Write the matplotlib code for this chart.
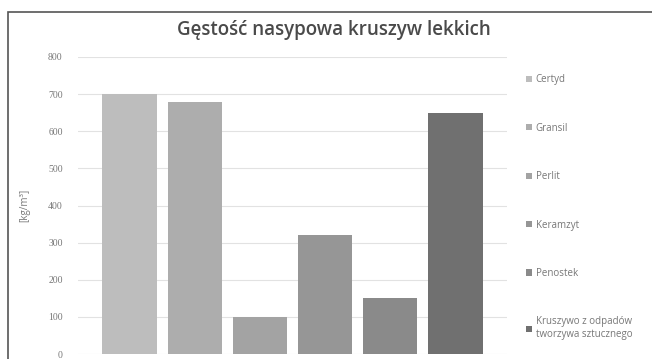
import matplotlib.pyplot as plt
from matplotlib.patches import Rectangle

# dane
materials = ["Certyd", "Gransil", "Perlit", "Keramzyt", "Penostek",
             "Kruszywo z odpadów\ntworzywa sztucznego"]
density = [700, 680, 100, 320, 150, 650]
bar_colors = ["#bdbdbd", "#adadad", "#a3a3a3", "#969696", "#8a8a8a", "#707070"]
y_ticks = [0, 100, 200, 300, 400, 500, 600, 700, 800]

plt.rcParams["font.family"] = ["Open Sans", "DejaVu Sans"]

fig = plt.figure(figsize=(6.52, 3.59), dpi=100)
W, H = 652, 359

# ramka wokół wykresu (wychodzi poza kadr z prawej i od dołu)
fig.patches.append(Rectangle((8 / W, -0.1), 1.2, 1.1 - 12 / H,
                             transform=fig.transFigure, fill=False,
                             edgecolor="#555555", linewidth=1.2))

ax = fig.add_axes([78 / W, 5 / H, 429 / W, 297 / H])
xs = range(len(materials))
bars = ax.bar(xs, density, width=0.83, color=bar_colors, label=materials,
              zorder=3)

ax.set_xlim(-0.79, len(materials) - 1 + 0.79)
ax.set_ylim(0, 800)
ax.set_yticks(y_ticks)
ax.set_xticks([])
ax.tick_params(axis="y", length=0, labelsize=7, labelcolor="#777777", pad=11)
for lab in ax.get_yticklabels():
    lab.set_family(["Liberation Serif", "DejaVu Serif"])
ax.grid(axis="y", color="#e2e2e2", linewidth=0.8, zorder=0)
for s in ax.spines.values():
    s.set_visible(False)

ax.set_ylabel("[kg/m³]", fontsize=7, color="#777777", labelpad=13)

fig.text(334 / W, 1 - 30 / H, "Gęstość nasypowa kruszyw lekkich",
         ha="center", va="center", fontsize=13.5, fontweight="semibold",
         color="#4a4a4a")

leg = ax.legend(loc="upper left", bbox_to_anchor=(1.035, 0.955),
                frameon=False, fontsize=7, labelcolor="#777777",
                handlelength=0.6, handleheight=0.6, handletextpad=0.4,
                labelspacing=3.85, borderaxespad=0)

fig.savefig("out.png", dpi=100)
